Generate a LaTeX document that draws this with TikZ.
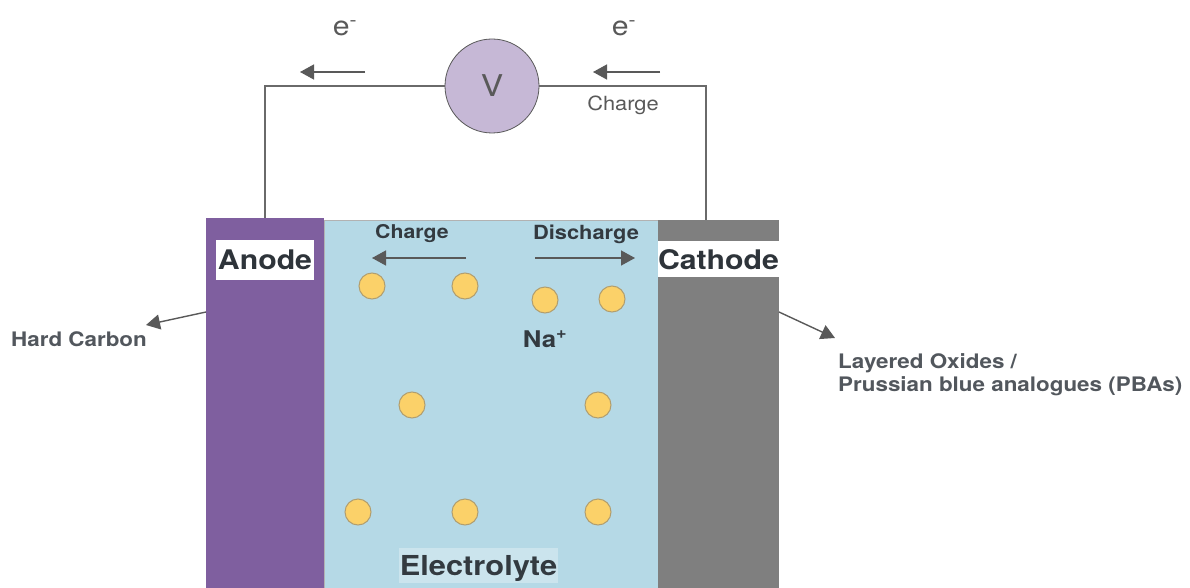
\documentclass[tikz,border=0pt]{standalone}
\usepackage{fontspec}
\setmainfont{TeX Gyre Heros}[FakeStretch=1.12]
\usepackage{xcolor}
\usetikzlibrary{positioning, arrows.meta}
\definecolor{anodecol}{HTML}{7F5F9F}
\definecolor{cathodecol}{HTML}{7F7F7F}
\definecolor{electrolytecol}{HTML}{B5D9E6}
\definecolor{ioncol}{HTML}{FBD169}
\definecolor{voltcol}{HTML}{C6B8D6}
\definecolor{inkcol}{HTML}{595959}
\definecolor{darkcol}{HTML}{333A40}
\tikzset{
	electrode/.style={rectangle,inner sep=0pt,minimum height=370pt},
	ion/.style={circle,draw=ioncol!60!black!75,line width=1pt,fill=ioncol,inner sep=0pt,minimum size=26pt},
	flow/.style={draw=inkcol,line width=1.4pt,-{Triangle[length=14pt,width=15pt]}},
	wire/.style={draw=inkcol!90!white,line width=1.1pt},
	namebox/.style={fill=white,inner sep=0pt,font=\fontsize{27}{28}\selectfont\bfseries,text=darkcol!90!black,text height=20pt,text depth=0pt},
	note/.style={text=inkcol,font=\fontsize{19.5}{20}\selectfont,inner sep=0pt},
	cellnote/.style={text=darkcol,font=\fontsize{19}{20}\selectfont\bfseries,inner sep=0pt},
	sidenote/.style={text=darkcol!85!white,font=\fontsize{20}{23}\selectfont\bfseries,inner sep=0pt,align=left}
}
\begin{document}
\begin{tikzpicture}[x=1pt,y=-1pt]
	\useasboundingbox (0,0) rectangle (1190,588);
	% cell
	\node[electrode,fill=electrolytecol,minimum width=334pt,draw=gray!60,line width=0.6pt,anchor=north west](electrolyte) at (324,220){};
	\node[electrode,fill=anodecol,minimum width=118pt,anchor=north west](anode) at (206,218){};
	\node[electrode,fill=cathodecol,minimum width=121pt,anchor=north west](cathode) at (658,220){};
	\node[namebox,minimum width=98pt,minimum height=40pt](anodelabel) at (265,259.5){Anode};
	\node[namebox,minimum width=121pt,minimum height=36pt](cathodelabel) at (718.5,259){Cathode};
	\node[fill=white,fill opacity=0.3,text opacity=1,inner sep=0pt,minimum width=159pt,minimum height=35pt,text=darkcol,font=\fontsize{27.5}{29}\selectfont\bfseries,text height=19pt,text depth=0pt](electrolytelabel) at (478.5,565.5){Electrolyte};
	% circuit
	\node[circle,draw=inkcol,line width=0.8pt,fill=voltcol,inner sep=0pt,minimum size=94pt,text=inkcol,font=\fontsize{30}{32}\selectfont](volt) at (492,86){V};
	\coordinate (anodewire) at (265,218);
	\coordinate (cathodewire) at (706,220);
	\draw[wire] (volt.west) -| (anodewire);
	\draw[wire] (volt.east) -| (cathodewire);
	\node[note,font=\fontsize{27}{28}\selectfont](eleft) at (345,28){e\textsuperscript{-}};
	\node[note,font=\fontsize{27}{28}\selectfont](eright) at (624,28){e\textsuperscript{-}};
	\node[note](chargetop) at (623,105){Charge};
	\coordinate (a1) at (365,72);
	\coordinate (a2) at (300,72);
	\coordinate (a3) at (660,72);
	\coordinate (a4) at (593,72);
	\draw[flow] (a1) -- (a2);
	\draw[flow] (a3) -- (a4);
	% inside the cell
	\node[cellnote](chargein) at (412,234){Charge};
	\node[cellnote,font=\fontsize{19.5}{20}\selectfont\bfseries](dischargein) at (586,234){Discharge};
	\coordinate (b1) at (466,258);
	\coordinate (b2) at (372,258);
	\coordinate (b3) at (535,258);
	\coordinate (b4) at (635,258);
	\draw[flow] (b1) -- (b2);
	\draw[flow] (b3) -- (b4);
	\node[ion](i1) at (372,286){};
	\node[ion](i2) at (465,286){};
	\node[ion](i3) at (545,300){};
	\node[ion](i4) at (612,299){};
	\node[ion](i5) at (412,405){};
	\node[ion](i6) at (598,405){};
	\node[ion](i7) at (358,512){};
	\node[ion](i8) at (465,512){};
	\node[ion](i9) at (598,512){};
	\node[cellnote,font=\fontsize{23}{24}\selectfont\bfseries](na) at (545,339){Na\textsuperscript{+}};
	% materials
	\node[sidenote,anchor=west](hard) at (11,339){Hard Carbon};
	\node[sidenote,anchor=west](layered) at (838,374.5){Layered Oxides /\\Prussian blue analogues (PBAs)};
	\coordinate (c1) at (206,312);
	\coordinate (c2) at (146,325);
	\coordinate (c3) at (779,312);
	\coordinate (c4) at (835,338);
	\draw[flow] (c1) -- (c2);
	\draw[flow] (c3) -- (c4);
\end{tikzpicture}
\end{document}
